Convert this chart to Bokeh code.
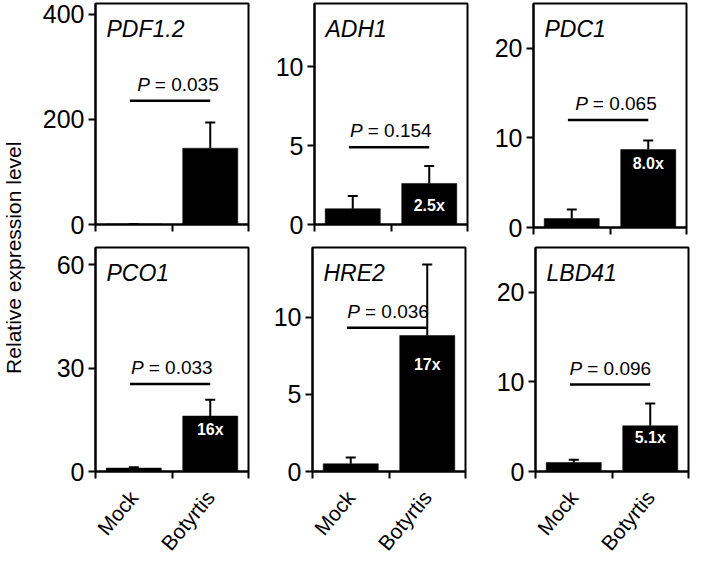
import math
from bokeh.plotting import figure
from bokeh.models import Range1d, FixedTicker, Whisker, TeeHead, ColumnDataSource
from bokeh.layouts import row, column
from bokeh.core.properties import value
from bokeh.embed import file_html
from bokeh.resources import INLINE

# ---------------- data ----------------
genes = ["PDF1.2", "ADH1", "PDC1", "PCO1", "HRE2", "LBD41"]
categories = ["Mock", "Botyrtis"]
mock_mean = [1.0, 1.0, 1.0, 1.0, 0.5, 1.0]
mock_se = [0.0, 0.8, 1.0, 0.2, 0.4, 0.3]
bot_mean = [145.0, 2.6, 8.7, 16.1, 8.8, 5.1]
bot_se = [49.0, 1.1, 1.0, 4.7, 4.6, 2.5]
p_values = ["0.035", "0.154", "0.065", "0.033", "0.036", "0.096"]
p_line_level = [235.0, 4.9, 12.0, 25.4, 9.3, 9.7]
fold_labels = ["", "2.5x", "8.0x", "16x", "17x", "5.1x"]
y_max = [420.0, 14.0, 25.0, 65.0, 14.5, 25.0]
y_ticks = [[0, 200, 400], [0, 5, 10], [0, 10, 20], [0, 30, 60], [0, 5, 10], [0, 10, 20]]
y_title = "Relative expression level"

# ---------------- styles ----------------
FONT = "Liberation Sans"
fold_offsets = [0, 14, 5, 5, 20, 3]
p_text_center = [1.05, 0.97, 1.05, 0.97, 0.96, 0.95]
FRAME_W = 153


def make_panel(i, show_x, left, right, top, bottom, fh):
    p = figure(frame_width=FRAME_W, frame_height=fh,
               min_border_left=left, min_border_right=right,
               min_border_top=top, min_border_bottom=bottom,
               x_range=Range1d(0, 2), y_range=Range1d(0, y_max[i]),
               output_backend="svg", toolbar_location=None, title=None)
    p.xgrid.visible = False
    p.ygrid.visible = False
    p.outline_line_color = "black"
    p.outline_line_width = 2
    p.background_fill_color = "white"
    p.border_fill_color = "white"

    ya = p.yaxis[0]
    ya.ticker = FixedTicker(ticks=y_ticks[i])
    ya.major_tick_out = 7
    ya.major_tick_in = 0
    ya.minor_tick_out = 0
    ya.minor_tick_in = 0
    ya.axis_line_width = 2
    ya.major_tick_line_width = 2
    ya.major_label_text_font = FONT
    ya.major_label_text_font_size = "25px"
    ya.major_label_text_color = "black"
    ya.major_label_standoff = 4

    xa = p.xaxis[0]
    xa.axis_line_width = 2
    xa.minor_tick_out = 7
    xa.minor_tick_in = 0
    xa.minor_tick_line_width = 2
    xa.major_tick_out = 0
    xa.major_tick_in = 0
    if show_x:
        xa.ticker = FixedTicker(ticks=[0.5, 1.5], minor_ticks=[0, 1, 2])
        xa.major_label_overrides = {0.5: categories[0], 1.5: categories[1]}
        xa.major_label_orientation = math.radians(50)
        xa.major_label_text_font = FONT
        xa.major_label_text_font_size = "21px"
        xa.major_label_text_color = "black"
        xa.major_label_standoff = 15
    else:
        xa.ticker = FixedTicker(ticks=[], minor_ticks=[0, 1, 2])

    # bars
    p.vbar(x=[0.5, 1.5], top=[mock_mean[i], bot_mean[i]], width=0.72,
           fill_color="black", line_color="black", line_width=0.5)

    # error bars (upper only)
    src = ColumnDataSource(dict(x=[0.5, 1.5],
                                lower=[mock_mean[i], bot_mean[i]],
                                upper=[mock_mean[i] + mock_se[i], bot_mean[i] + bot_se[i]]))
    w = Whisker(source=src, base="x", lower="lower", upper="upper", dimension="height",
                line_color="black", line_width=2,
                upper_head=TeeHead(size=10, line_color="black", line_width=2),
                lower_head=None)
    p.add_layout(w)

    # significance line and P text
    p.segment(x0=[0.45], y0=[p_line_level[i]], x1=[1.5], y1=[p_line_level[i]],
              line_color="black", line_width=2.5)
    xc = p_text_center[i]
    p.text(x=[xc], y=[p_line_level[i]], text=["P"], text_font=value(FONT),
           text_font_style="italic", text_font_size="19px", text_align="right",
           text_baseline="bottom", x_offset=-26, y_offset=-6, text_color="black")
    p.text(x=[xc], y=[p_line_level[i]], text=["= " + p_values[i]], text_font=value(FONT),
           text_font_size="19px", text_align="left",
           text_baseline="bottom", x_offset=-21, y_offset=-6, text_color="black")

    # gene name
    p.text(x=[0], y=[y_max[i]], text=[genes[i]], text_font=value(FONT),
           text_font_style="italic", text_font_size="23px", text_align="left",
           text_baseline="top", x_offset=11, y_offset=12, text_color="black")

    # fold change label
    if fold_labels[i]:
        p.text(x=[1.5], y=[bot_mean[i]], text=[fold_labels[i]], text_font=value(FONT),
               text_font_style="bold", text_font_size="16px", text_align="center",
               text_baseline="top", y_offset=fold_offsets[i], text_color="white")
    return p


p1 = make_panel(0, False, 65, 5, 1, 18, 221)
p2 = make_panel(1, False, 61, 5, 1, 18, 221)
p3 = make_panel(2, False, 61, 7, 3, 13, 224)
p4 = make_panel(3, True, 65, 5, 7, 74, 224)
p5 = make_panel(4, True, 59, 5, 7, 74, 224)
p6 = make_panel(5, True, 65, 5, 7, 74, 224)

lab = figure(width=30, height=545, x_range=Range1d(0, 1), y_range=Range1d(0, 1),
             x_axis_type=None, y_axis_type=None, output_backend="svg",
             toolbar_location=None, title=None,
             min_border_left=0, min_border_right=0, min_border_top=0, min_border_bottom=0)
lab.outline_line_color = None
lab.xgrid.visible = False
lab.ygrid.visible = False
lab.text(x=[0.42], y=[0.528], text=[y_title], angle=math.pi / 2, text_font=value(FONT),
         text_font_size="21px", text_align="center", text_baseline="middle", text_color="black")

layout = row(lab, column(row(p1, p2, p3), row(p4, p5, p6)))

open("out.html", "w").write(file_html(layout, INLINE))
